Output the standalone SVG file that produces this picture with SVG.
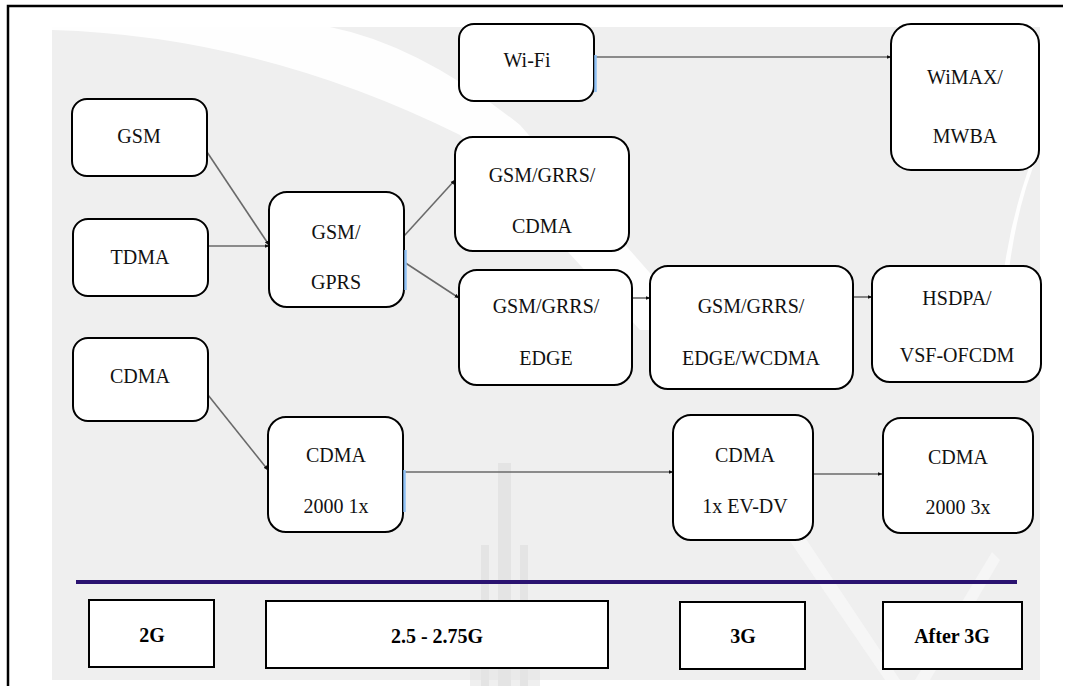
<svg xmlns="http://www.w3.org/2000/svg" width="1068" height="686" viewBox="0 0 1068 686">
  <defs>
    <style>
      .node rect { fill: #ffffff; stroke: #000000; stroke-width: 2; }
      .node text { font-family: 'Liberation Serif', 'DejaVu Serif', serif; font-size: 20px; fill: #111111; text-anchor: middle; }
      .era rect { fill: #ffffff; stroke: #000000; stroke-width: 2; }
      .era text { font-family: 'Liberation Serif', 'DejaVu Serif', serif; font-size: 20px; font-weight: bold; fill: #000000; text-anchor: middle; }
      .conn line { stroke: #6a6a6a; stroke-width: 1.6; fill: none; marker-end: url(#dot); }
      .glow { stroke: #8fc1f5; stroke-width: 2.5; fill: none; }
      .wm { fill: #e4e4e4; }
    </style>
    <marker id="dot" viewBox="0 0 10 10" refX="9" refY="5" markerWidth="5" markerHeight="5" orient="auto" markerUnits="userSpaceOnUse">
      <path d="M0,1 L10,5 L0,9 Z" fill="#111111"/>
    </marker>
  </defs>

  <rect x="0" y="0" width="1068" height="686" fill="#ffffff"/>
  <g id="background">
    <rect x="52" y="27" width="988" height="653" fill="#efefef"/>
    <path d="M52,27 L52,30 Q260,36 460,135 L 640,330 L 700,330 L 520,125 Q 420,45 330,27 Z" fill="#ffffff" opacity="0.9"/>
    <path d="M1040,140 Q1014,200 1004,270 L1009,270 Q1018,200 1040,150 Z" fill="#ffffff" opacity="0.9"/>
    <path d="M780,500 L900,680 L885,680 L772,515 Z" fill="#f6f6f6"/>
    <path d="M1000,560 L930,680 L915,680 L992,552 Z" fill="#f6f6f6"/>
    <rect class="wm" x="498" y="463" width="13" height="223"/>
    <rect class="wm" x="481" y="545" width="8" height="141"/>
    <rect class="wm" x="520" y="545" width="8" height="141"/>
    <rect class="wm" x="470" y="640" width="70" height="46" opacity="0.6"/>
  </g>

  <path id="frame" d="M8,686 L8,6 L1063,6" fill="none" stroke="#000000" stroke-width="2.5"/>

  <g id="connectors" class="conn">
    <line x1="594" y1="57" x2="891" y2="57"/>
    <line x1="207" y1="152" x2="269" y2="245"/>
    <line x1="208" y1="246" x2="269" y2="246"/>
    <line x1="404" y1="236" x2="455" y2="180"/>
    <line x1="404" y1="262" x2="459" y2="298"/>
    <line x1="632" y1="298" x2="650" y2="298"/>
    <line x1="852" y1="297" x2="872" y2="297"/>
    <line x1="208" y1="395" x2="268" y2="470"/>
    <line x1="403" y1="472" x2="673" y2="472"/>
    <line x1="812" y1="474" x2="882" y2="474"/>
  </g>

  <g id="n-gsm" class="node">
    <rect x="72" y="99" width="135" height="77" rx="15"/>
    <text x="139" y="143">GSM</text>
  </g>
  <g id="n-tdma" class="node">
    <rect x="73" y="219" width="135" height="77" rx="15"/>
    <text x="140" y="264">TDMA</text>
  </g>
  <g id="n-cdma" class="node">
    <rect x="73" y="338" width="135" height="83" rx="15"/>
    <text x="140" y="383">CDMA</text>
  </g>
  <g id="n-gprs" class="node">
    <rect x="269" y="192" width="135" height="115" rx="18"/>
    <path class="glow" d="M405.5,250 L405.5,290"/>
    <text x="336" y="239">GSM/</text>
    <text x="336" y="289">GPRS</text>
  </g>
  <g id="n-cdma2000-1x" class="node">
    <rect x="268" y="417" width="135" height="115" rx="18"/>
    <path class="glow" d="M404.5,470 L404.5,512"/>
    <text x="336" y="462">CDMA</text>
    <text x="336" y="513">2000 1x</text>
  </g>
  <g id="n-wifi" class="node">
    <rect x="459" y="24" width="135" height="77" rx="15"/>
    <path class="glow" d="M595.5,55 L595.5,92"/>
    <text x="527" y="67">Wi-Fi</text>
  </g>
  <g id="n-grrs-cdma" class="node">
    <rect x="455" y="137" width="174" height="114" rx="18"/>
    <text x="542" y="182">GSM/GRRS/</text>
    <text x="542" y="233">CDMA</text>
  </g>
  <g id="n-grrs-edge" class="node">
    <rect x="459" y="270" width="173" height="115" rx="18"/>
    <text x="546" y="313">GSM/GRRS/</text>
    <text x="546" y="365">EDGE</text>
  </g>
  <g id="n-wcdma" class="node">
    <rect x="650" y="266" width="203" height="123" rx="18"/>
    <text x="751" y="313">GSM/GRRS/</text>
    <text x="751" y="365">EDGE/WCDMA</text>
  </g>
  <g id="n-evdv" class="node">
    <rect x="673" y="415" width="140" height="125" rx="18"/>
    <text x="745" y="462">CDMA</text>
    <text x="745" y="513">1x EV-DV</text>
  </g>
  <g id="n-wimax" class="node">
    <rect x="891" y="24" width="148" height="146" rx="20"/>
    <text x="965" y="84">WiMAX/</text>
    <text x="965" y="143">MWBA</text>
  </g>
  <g id="n-hsdpa" class="node">
    <rect x="872" y="266" width="169" height="116" rx="18"/>
    <text x="957" y="305">HSDPA/</text>
    <text x="957" y="362">VSF-OFCDM</text>
  </g>
  <g id="n-cdma2000-3x" class="node">
    <rect x="883" y="418" width="150" height="115" rx="18"/>
    <text x="958" y="464">CDMA</text>
    <text x="958" y="514">2000 3x</text>
  </g>

  <line id="timeline" x1="76" y1="582" x2="1017" y2="582" stroke="#2a1270" stroke-width="4"/>

  <g id="era-2g" class="era">
    <rect x="89" y="600" width="125" height="67"/>
    <text x="152" y="642">2G</text>
  </g>
  <g id="era-25g" class="era">
    <rect x="266" y="601" width="342" height="67"/>
    <text x="437" y="643">2.5 - 2.75G</text>
  </g>
  <g id="era-3g" class="era">
    <rect x="680" y="602" width="125" height="67"/>
    <text x="743" y="643">3G</text>
  </g>
  <g id="era-after3g" class="era">
    <rect x="883" y="602" width="139" height="67"/>
    <text x="952" y="643">After 3G</text>
  </g>
</svg>
